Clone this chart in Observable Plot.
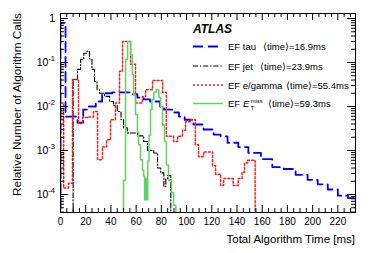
<!DOCTYPE html>
<html><head><meta charset="utf-8">
<script src="https://cdn.jsdelivr.net/npm/d3@7"></script>
<script src="https://cdn.jsdelivr.net/npm/@observablehq/plot@0.6"></script>
<style>body{margin:0;background:#fff}</style>
</head><body><div id="chart"></div>
<script>
// ---- data (bin edges in ms, relative number of calls per bin) ----
const tauEdges = [0,4,13.5,18,22,28,33,41,52,57,61,66,71,79,82,90,94,98.5,105.5,113.5,121.5,127,132.5,141,149,159,168,177,186.5,196,204,212,220,228,235];
const tauValues = [0.8,5.9e-3,4.3e-3,8.5e-3,0.010,0.013,0.020,0.021,0.021,0.019,0.016,0.0145,0.013,0.010,0.0085,0.0073,0.0059,0.0050,0.0039,0.0030,0.0023,0.0021,0.0015,0.0012,8.8e-4,6.4e-4,4.2e-4,3.8e-4,2.8e-4,2.15e-4,1.7e-4,1.3e-4,9.4e-5,8.3e-5];

const jetEdges = [10,13.5,16,18.5,21,23,25,27,29,31,35,39,42,45,48,50,53,61,66,69,74,77,79.5,82,83.5,85,87.5];
const jetValues = [0.041,0.07,0.119,0.163,0.18,0.12,0.07,0.037,0.024,0.020,0.017,0.013,0.0105,0.0077,0.005,0.0033,0.0025,0.00215,0.0016,0.0010,8.8e-4,4e-4,3.1e-4,1.5e-4,2.3e-4,2.7e-4];

const egEdges = [0,2.5,6.3,9.5,14.3,17.5,22.2,26.2,29.4,33.3,36.5,39.7,43.6,46.8,49.2,55.6,59.5,65,67.5,73,81,84,89.7,92.9,96.8,99.2,103,107,109.5,113.5,120.6,123,127,129.4,137,141,144,146,148.4,154.4];
const egValues = [0.012,1.4e-4,1.8e-4,0.041,4.1e-3,5.6e-3,5.8e-3,7.7e-3,6.2e-4,1.2e-3,1.75e-3,5e-3,0.012,0.063,0.30,0.091,0.012,0.0168,0.024,0.039,0.021,2.1e-3,1.6e-3,2.1e-3,2.9e-3,4.5e-3,5e-3,1.35e-3,7.2e-4,9.3e-4,4.5e-4,2.9e-4,1.6e-4,2.3e-4,1.6e-4,2.3e-4,3.2e-4,5.2e-4,6e-4];

const metEdges = [50,51.6,53.2,55.6,57,58,59.5,61,62,63.5,65,66,66.7,67.2,67.7,68.2,68.7,69.2,70.2,71.4,72.6,74,76,78,79.4,81,82.5,84,85.7,88,89.7,91.5];
const metValues = [2.1e-4,0.118,0.30,0.15,0.054,0.019,6.6e-3,2.6e-3,1.36e-3,6.2e-4,3.6e-4,2.6e-4,7.6e-5,2.3e-4,7.6e-5,2.3e-4,7.6e-5,5.8e-4,2.2e-3,8.5e-3,0.0144,0.021,0.024,0.016,0.010,3.8e-3,1.6e-3,4.7e-4,2.1e-4,1.1e-4,5.7e-5];

const xMajor = [0,20,40,60,80,100,120,140,160,180,200,220];
const xMinor = [5,10,15,25,30,35,45,50,55,65,70,75,85,90,95,105,110,115,125,130,135,145,150,155,165,170,175,185,190,195,205,210,215,225,230];
const yMajor = [1e-4,1e-3,1e-2,1e-1,1];
const yMajorExp = [-4,-3,-2,-1,0];
const yMinor = [4e-5,5e-5,6e-5,7e-5,8e-5,9e-5,2e-4,3e-4,4e-4,5e-4,6e-4,7e-4,8e-4,9e-4,2e-3,3e-3,4e-3,5e-3,6e-3,7e-3,8e-3,9e-3,0.02,0.03,0.04,0.05,0.06,0.07,0.08,0.09,0.2,0.3,0.4,0.5,0.6,0.7,0.8,0.9];

const FLOOR = 1e-5;
function steps(edges, values) {
  const pts = [{x: edges[0], y: FLOOR}];
  values.forEach((v, i) => pts.push({x: edges[i], y: v}));
  pts.push({x: edges[edges.length - 1], y: values[values.length - 1]});
  pts.push({x: edges[edges.length - 1], y: FLOOR});
  return pts;
}

const ML = 60, MR = 19, MT = 13, MB = 41, W = 374, H = 253;
const PW = W - ML - MR, PH = H - MT - MB;

const plot = Plot.plot({
  width: W, height: H,
  marginLeft: ML, marginRight: MR, marginTop: MT, marginBottom: MB,
  style: {fontFamily: "'Liberation Sans', Arial, sans-serif", fontSize: "10px", color: "black", background: "white"},
  x: {domain: [0, 234], ticks: xMajor, tickFormat: d => String(d), tickSize: 0, tickPadding: 5, label: null},
  y: {type: "log", domain: [3.9e-5, 1.3], axis: null},
  marks: [
    Plot.line(steps(tauEdges, tauValues), {x: "x", y: "y", curve: "step-after", stroke: "#0000ff", strokeWidth: 1.8, strokeDasharray: "10,5", clip: true}),
    Plot.line(steps(jetEdges, jetValues), {x: "x", y: "y", curve: "step-after", stroke: "#000000", strokeWidth: 1.1, strokeDasharray: "5,2,1.2,2", clip: true}),
    Plot.line(steps(egEdges, egValues), {x: "x", y: "y", curve: "step-after", stroke: "#ff1a1a", strokeWidth: 1.5, strokeDasharray: "2,2", clip: true}),
    Plot.line(steps(metEdges, metValues), {x: "x", y: "y", curve: "step-after", stroke: "#5fd35f", strokeWidth: 1.5, clip: true}),
    // inward ticks on all four sides
    Plot.ruleX(xMajor, {stroke: "black", insetTop: PH - 7}),
    Plot.ruleX(xMinor, {stroke: "black", insetTop: PH - 4}),
    Plot.ruleX(xMajor, {stroke: "black", insetBottom: PH - 7}),
    Plot.ruleX(xMinor, {stroke: "black", insetBottom: PH - 4}),
    Plot.ruleY(yMajor, {stroke: "black", insetRight: PW - 8}),
    Plot.ruleY(yMinor, {stroke: "black", insetRight: PW - 4}),
    Plot.ruleY(yMajor, {stroke: "black", insetLeft: PW - 8}),
    Plot.ruleY(yMinor, {stroke: "black", insetLeft: PW - 4}),
    Plot.frame({stroke: "black"})
  ]
});
document.getElementById("chart").appendChild(plot);

const svg = d3.select(plot.tagName.toLowerCase() === "svg" ? plot : plot.querySelector("svg"));
const ys = plot.scale("y");
const font = "'Liberation Sans', Arial, sans-serif";

function txt(x, y, s, size, anchor) {
  return svg.append("text").attr("x", x).attr("y", y).attr("text-anchor", anchor || "start")
    .attr("font-family", font).attr("font-size", size).attr("fill", "black").text(s);
}

// y tick labels with superscripts
yMajor.forEach((v, i) => {
  const py = ys.apply(v);
  const t = svg.append("text").attr("x", 55).attr("y", py + 4).attr("text-anchor", "end")
    .attr("font-family", font).attr("font-size", 10.5).attr("fill", "black");
  if (yMajorExp[i] === 0) { t.text("1"); }
  else {
    t.append("tspan").text("10");
    t.append("tspan").attr("font-size", 7.5).attr("dy", -5).text(String(yMajorExp[i]));
  }
});

// axis titles
txt(355, 243, "Total Algorithm Time [ms]", 11.5, "end");
svg.append("text").attr("transform", "translate(21,13) rotate(-90)").attr("text-anchor", "end")
  .attr("font-family", font).attr("font-size", 11.8).attr("fill", "black")
  .text("Relative Number of Algorithm Calls");

// legend
txt(193, 33, "ATLAS", 12).attr("font-weight", "bold").attr("font-style", "italic");
const legendNames = ["EF tau", "EF jet", "EF e/gamma", "EF"];
const legendTimes = ["\u27E8time\u27E9=16.9ms", "\u27E8time\u27E9=23.9ms", "\u27E8time\u27E9=55.4ms", "\u27E8time\u27E9=59.3ms"];
const legendTimeX = [263, 260, 286, 268];
const legendRowY = [46.5, 66, 85, 103.5];
const legendStyle = [
  {stroke: "#0000ff", w: 1.8, dash: "10,5"},
  {stroke: "#000000", w: 1.1, dash: "5,2,1.2,2"},
  {stroke: "#ff1a1a", w: 1.5, dash: "2,2"},
  {stroke: "#5fd35f", w: 1.5, dash: null}
];
legendNames.forEach((name, i) => {
  const y = legendRowY[i], s = legendStyle[i];
  const l = svg.append("line").attr("x1", 193).attr("x2", 223).attr("y1", y).attr("y2", y)
    .attr("stroke", s.stroke).attr("stroke-width", s.w);
  if (s.dash) l.attr("stroke-dasharray", s.dash);
  txt(228, y + 3.5, name, 9.5);
  txt(legendTimeX[i], y + 3.5, legendTimes[i], 9.5);
});
// E_T^miss
const yM = legendRowY[3] + 3.5;
txt(243, yM, "E", 9.5).attr("font-style", "italic");
txt(250.5, yM - 4, "miss", 6);
txt(250.5, yM + 3, "T", 6);
</script>
</body></html>
